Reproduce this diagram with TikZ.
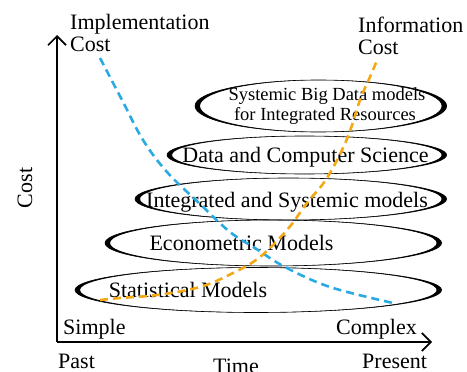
\documentclass[tikz,border=0pt]{standalone}
\usepackage{fontspec}
\setmainfont{Liberation Serif}
\usetikzlibrary{arrows.meta}
\definecolor{azul}{RGB}{41,170,226}
\definecolor{naranja}{RGB}{243,168,20}
\tikzset{
  eje/.style={line width=1.7pt, -{Straight Barb[length=9pt,width=18pt]}},
  etiq/.style={anchor=base west, inner sep=0pt, font=\fontsize{22}{26}\selectfont},
  modelo/.style={anchor=base, inner sep=0pt, font=\fontsize{22}{26}\selectfont},
  anillo/.style={line width=0.6pt},
  curva/.style={line width=2.6pt, dash pattern=on 8pt off 5pt, smooth, tension=0.6}
}
\begin{document}
\begin{tikzpicture}[x=1pt, y=-1pt]
      \useasboundingbox (0,0) rectangle (467,372);

      % Anillos de los modelos
      \draw[anillo] (256,290) ellipse (181 and 22.5);
      \fill[even odd rule] (256,290) ellipse (181 and 22.5) (261,290) ellipse (181 and 22.5);
      \draw[anillo] (271,243) ellipse (166 and 23);
      \fill[even odd rule] (271,243) ellipse (166 and 23) (276,243) ellipse (166 and 23);
      \draw[anillo] (288.5,199) ellipse (153.5 and 21);
      \fill[even odd rule] (288.5,199) ellipse (153.5 and 21) (293.5,199) ellipse (153.5 and 21);
      \draw[anillo] (304.5,155) ellipse (137.5 and 19);
      \fill[even odd rule] (304.5,155) ellipse (137.5 and 19) (309.5,155) ellipse (137.5 and 19);
      \draw[anillo] (318.5,106) ellipse (123.5 and 26);
      \fill[even odd rule] (318.5,106) ellipse (123.5 and 26) (323.5,106) ellipse (123.5 and 26);

      % Nombres de los modelos
      \node[modelo] (estad) at (188,297) {Statistical Models};
      \node[modelo] (econ) at (241.5,250) {Econometric Models};
      \node[modelo] (integ) at (287,207) {Integrated and Systemic models};
      \node[modelo] (datos) at (305.5,162) {Data and Computer Science};
      \node[modelo, font=\fontsize{18.5}{20}\selectfont] (bigdata1) at (327,100) {Systemic Big Data models};
      \node[modelo, font=\fontsize{18.5}{20}\selectfont] (bigdata2) at (325,120) {for Integrated Resources};

      % Curvas de costo
      \draw[curva, azul] plot coordinates {(100,58) (122,100) (143,140) (167,172) (200,204)
        (230,232) (255,248) (285,267) (330,287) (393,303)};
      \draw[curva, naranja] plot coordinates {(100,300) (120,298) (157,295) (200,287) (233,273)
        (260,257) (287,230) (307,203) (327,178) (347,139) (360,100) (370,77) (378,58)};

      % Ejes
      \coordinate (origen) at (57,342);
      \coordinate (ytope) at (57,35);
      \coordinate (xfin) at (432,342);
      \draw[eje] (origen) -- (ytope);
      \draw[eje] (origen) -- (xfin);

      % Etiquetas
      \node[etiq] (impl) at (70,29) {Implementation};
      \node[etiq] (implcost) at (70,52) {Cost};
      \node[etiq] (info) at (358,33) {Information};
      \node[etiq] (infocost) at (358,55) {Cost};
      \node[etiq, rotate=90, anchor=center] (costo) at (25,188) {Cost};
      \node[etiq] (simple) at (63,334) {Simple};
      \node[etiq] (complejo) at (336,334) {Complex};
      \node[etiq] (pasado) at (58,368) {Past};
      \node[etiq] (tiempo) at (213,373) {Time};
      \node[etiq] (presente) at (362,368) {Present};
\end{tikzpicture}
\end{document}
